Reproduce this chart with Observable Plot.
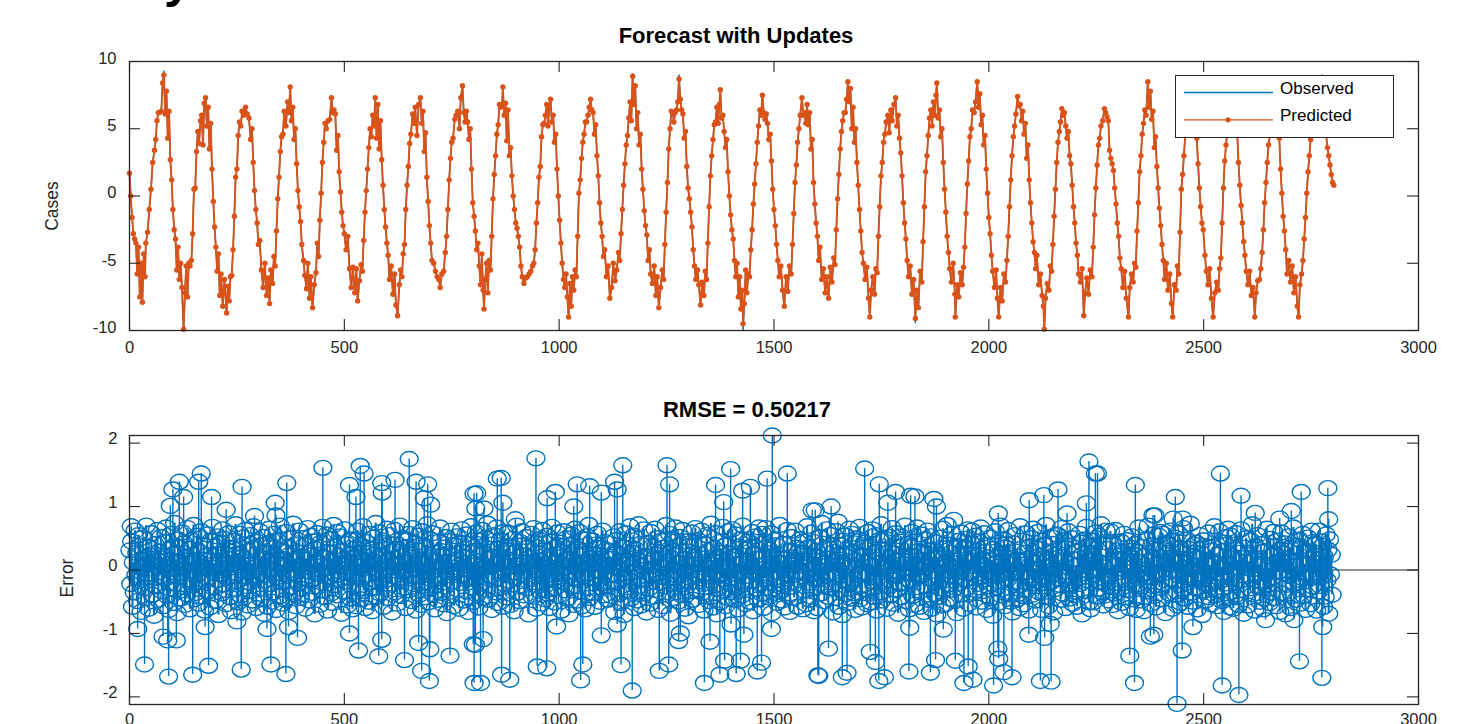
<!DOCTYPE html>
<html><head><meta charset="utf-8">
<script src="https://cdn.jsdelivr.net/npm/d3@7"></script>
<script src="https://cdn.jsdelivr.net/npm/@observablehq/plot@0.6"></script>
<style>
html,body{margin:0;padding:0;background:#fff;}
#page{position:relative;width:1474px;height:724px;overflow:hidden;background:#fff;font-family:"Liberation Sans",Arial,Helvetica,sans-serif;}
#topChart{position:absolute;left:0;top:0;}
#bottomChart{position:absolute;left:0;top:380px;}
#legend{position:absolute;left:1175px;top:75px;width:219px;height:63px;box-sizing:border-box;border:1.3px solid #262626;background:#fff;z-index:5;}
#heading{position:absolute;left:0;top:0;z-index:6;}
</style></head>
<body><div id="page">
<svg id="heading" width="420" height="20"><text x="100" y="-3" font-family="Liberation Sans, Arial, sans-serif" font-weight="bold" font-size="50" fill="#000">Day of Week</text></svg>
<div id="topChart"></div>
<div id="bottomChart"></div>
<div id="legend"><svg width="217" height="61" style="position:absolute;left:0;top:0">
<line x1="8" x2="97" y1="16.5" y2="16.5" stroke="#0072BD" stroke-width="1.3"/>
<line x1="8" x2="97" y1="43.8" y2="43.8" stroke="#D95319" stroke-width="1.3"/>
<circle cx="52" cy="43.8" r="2.6" fill="#D95319"/>
<text x="104" y="17.5" font-family="Liberation Sans, Arial, sans-serif" font-size="17" fill="#000">Observed</text>
<text x="104" y="45" font-family="Liberation Sans, Arial, sans-serif" font-size="17" fill="#000">Predicted</text>
</svg></div>
</div>
<script>
// ---------- data ----------
const xTicks = [0, 500, 1000, 1500, 2000, 2500, 3000];
const casesTicks = [-10, -5, 0, 5, 10];
const errorTicks = [-2, -1, 0, 1, 2];

// Predicted series [time, cases]
const predicted = [
[0,1.7],[3,0],[6,-1.6],[9,-2.8],[12,-3.2],[15,-3.5],[18,-5.8],[21,-3.8],[24,-7.5],[27,-5],[30,-7.9],[33,-4.3],[36,-6],[38,-3.5],[42,-2.7],[46,-1],[50,0.5],[54,2.5],[58,3.4],[61,4.2],[64,5.6],[67,6.2],[70,6.2],[74,6.3],[77,8.4],[80,9.0],[83,6.1],[86,7.8],[89,4.3],[92,6.3],[95,2.7],
[98,1.2],[101,-1],[104,-2.5],[107,-3.2],[110,-5.5],[113,-3.8],[116,-6.2],[119,-5],[122,-6.8],[126,-9.9],[129,-7.2],[132,-5.2],[135,-7.5],[138,-5.0],[141,-5.2],[144,-4.8],
[147,-2.8],[150,0.5],[153,0.6],[156,3.3],[159,4.8],[162,3.9],[165,5.6],[168,6.0],[171,3.8],[174,6.9],[177,7.3],[180,5.2],[183,6.6],[186,3.5],[189,5.4],[192,2.0],
[195,-0.4],[198,-2.3],[201,-3.8],[204,-5.6],[207,-4.3],[210,-7.4],[213,-5.8],[217,-8.2],[221,-6.2],[226,-8.7],[229,-6.7],[232,-7.8],[235,-6.0],[238,-5.9],
[241,-4.0],[244,-1.5],[247,1.4],[250,2.0],[253,4.5],[256,5.5],[259,5.2],[262,6.3],[266,6.0],[270,6.6],[274,6.1],[278,5.8],[282,4.2],[285,5.0],[288,2.5],
[291,0.4],[294,-1.0],[297,-2.0],[300,-3.6],[303,-3.3],[307,-5.5],[311,-6.8],[315,-5.0],[319,-7.4],[323,-6.1],[326,-8.0],[329,-5.5],[333,-6.5],[336,-4.5],[339,-5.2],
[342,-2.6],[345,-0.2],[348,1.4],[351,3.3],[354,4.4],[357,4.6],[360,6.3],[364,5.2],[368,7.0],[371,6.2],[374,8.1],[377,5.6],[380,6.6],[383,4.2],[386,5.0],[389,2.4],
[392,0.4],[395,-0.8],[398,-1.9],[401,-3.6],[405,-4.8],[408,-5.9],[412,-6.9],[415,-5.0],[419,-7.6],[422,-6.0],[426,-8.3],[430,-6.6],[434,-5.7],[437,-3.5],[440,-4.5],
[443,-1.8],[446,0.2],[449,2.5],[452,4.0],[455,5.4],[458,5.0],[462,5.6],[466,5.7],[470,7.3],[473,6.2],[476,6.4],[479,6.1],[482,3.4],[485,4.5],[488,1.8],
[491,0.3],[494,-1.2],[497,-2.2],[500,-2.8],[504,-4.0],[508,-3.0],[512,-5.4],[516,-6.8],[520,-5.3],[524,-7.2],[528,-5.4],[531,-7.8],[535,-6.3],[539,-5.1],[542,-5.6],
[545,-3.3],[548,-1.2],[551,0.4],[554,2.0],[557,3.6],[560,5.0],[563,4.4],[566,6.0],[569,5.2],[572,7.3],[575,4.3],[578,6.8],[581,3.5],[584,5.6],[587,2.7],
[590,0.8],[593,-1.0],[596,-2.3],[599,-3.5],[602,-4.4],[605,-6.2],[609,-5.2],[613,-7.3],[617,-5.8],[620,-8.1],[624,-8.9],[628,-6.6],[631,-5.5],[634,-6.0],[637,-4.3],
[640,-3.6],[643,-1.0],[646,0.8],[649,2.2],[652,3.9],[655,4.6],[659,6.1],[662,5.4],[665,6.6],[669,4.5],[673,6.8],[677,7.3],[680,5.4],[683,6.3],[686,3.3],[689,4.7],
[692,1.4],[695,-0.4],[698,-2.2],[701,-3.5],[704,-4.8],[708,-5.0],[712,-5.6],[716,-6.0],[720,-6.2],[723,-6.8],[727,-5.8],[731,-5.6],[735,-4.2],[738,-3.0],
[741,-1.0],[744,1.2],[747,2.8],[750,4.0],[753,4.3],[757,5.7],[760,6.0],[764,6.3],[768,5.0],[771,7.3],[775,8.2],[778,6.2],[781,5.5],[784,6.3],[787,5.5],[790,4.2],[793,5.0],
[796,2.0],[799,-0.5],[802,-1.5],[805,-2.6],[808,-4.0],[811,-3.5],[814,-5.2],[817,-6.6],[820,-4.3],[823,-7.0],[825,-8.4],[828,-6.2],[831,-5.0],[834,-7.2],[837,-4.8],[840,-5.5],
[843,-3.0],[846,-0.2],[849,1.6],[852,3.0],[855,4.6],[858,5.3],[861,6.8],[864,6.6],[867,6.8],[869,8.1],[872,6.0],[875,6.9],[878,4.1],[881,6.4],[884,3.0],[887,3.6],
[890,1.5],[893,0.0],[896,-1.0],[899,-2.0],[902,-2.4],[905,-3.0],[908,-3.8],[911,-5.2],[914,-6.0],[918,-6.5],[922,-6.1],[926,-6.0],[930,-5.8],[934,-5.6],[938,-5.2],[941,-5.0],
[944,-4.0],[947,-2.0],[950,-0.5],[953,1.4],[956,2.2],[959,4.4],[962,5.3],[965,5.4],[968,6.0],[971,6.8],[974,5.2],[977,6.5],[980,7.2],[983,5.5],[986,6.0],[989,4.0],[992,4.6],
[995,2.0],[998,0.0],[1001,-1.8],[1004,-3.5],[1007,-5.0],[1010,-6.2],[1013,-6.8],[1016,-5.8],[1019,-7.5],[1022,-9.0],[1025,-6.5],[1028,-8.2],[1031,-6.0],[1034,-7.0],[1037,-5.5],[1040,-6.0],
[1043,-3.0],[1046,0.2],[1049,1.2],[1052,2.8],[1055,4.0],[1058,4.6],[1061,5.5],[1064,5.5],[1067,6.0],[1070,6.6],[1073,7.2],[1076,6.4],[1079,6.2],[1082,4.6],[1085,5.3],[1088,3.0],
[1091,1.5],[1094,-0.5],[1097,-2.0],[1100,-3.0],[1103,-4.5],[1106,-4.0],[1110,-6.0],[1114,-5.2],[1118,-7.6],[1122,-6.8],[1126,-5.0],[1130,-6.3],[1134,-5.5],[1138,-4.2],[1141,-4.8],
[1144,-2.8],[1147,-1.0],[1150,0.8],[1153,2.4],[1156,3.8],[1159,4.5],[1162,5.8],[1165,7.0],[1168,5.6],[1171,8.9],[1174,6.8],[1177,8.2],[1180,5.0],[1183,6.2],[1186,3.8],[1189,4.6],
[1192,2.0],[1195,0.5],[1198,-1.1],[1201,-2.2],[1204,-2.9],[1207,-4.8],[1210,-4.0],[1213,-5.8],[1217,-6.5],[1221,-5.2],[1225,-7.4],[1228,-6.0],[1232,-8.3],[1236,-6.8],[1240,-5.5],[1243,-6.2],
[1246,-3.6],[1249,-1.2],[1252,1.0],[1255,3.5],[1258,5.0],[1261,6.3],[1264,6.2],[1267,5.5],[1270,6.2],[1273,6.4],[1276,7.0],[1279,8.7],[1282,7.2],[1285,6.4],[1288,6.1],[1291,4.3],[1294,4.8],
[1297,2.2],[1300,0.6],[1303,-0.2],[1306,-1.2],[1309,-2.3],[1312,-4.0],[1315,-5.2],[1318,-6.2],[1322,-5.5],[1325,-6.6],[1329,-8.1],[1333,-6.4],[1337,-7.4],[1340,-5.6],[1343,-6.2],
[1346,-3.5],[1349,-0.8],[1352,1.5],[1355,3.0],[1358,4.2],[1361,5.3],[1364,5.5],[1367,6.6],[1370,5.4],[1373,6.8],[1375,7.9],[1378,5.8],[1381,6.0],[1384,4.8],[1387,3.6],[1390,4.2],
[1393,1.8],[1396,0.0],[1399,-1.4],[1402,-2.5],[1405,-3.2],[1408,-4.8],[1411,-6.0],[1414,-5.0],[1417,-7.5],[1420,-6.0],[1423,-8.4],[1426,-7.0],[1428,-9.5],[1431,-8.0],[1434,-5.5],[1437,-7.2],[1440,-5.8],[1443,-6.0],
[1446,-4.0],[1449,-2.5],[1452,-0.6],[1455,0.9],[1458,2.4],[1461,4.0],[1464,5.2],[1467,6.4],[1470,6.0],[1473,7.5],[1476,6.2],[1479,5.7],[1482,6.1],[1485,5.4],[1488,4.2],[1491,4.6],[1494,2.6],
[1497,0.5],[1500,-1.0],[1503,-2.2],[1506,-3.6],[1509,-4.8],[1512,-6.0],[1516,-5.2],[1520,-7.0],[1524,-8.2],[1528,-6.0],[1532,-7.1],[1536,-5.2],[1540,-5.8],
[1543,-3.6],[1546,-1.3],[1549,1.0],[1552,2.3],[1555,4.0],[1558,5.0],[1561,6.0],[1565,7.3],[1568,6.0],[1571,6.2],[1574,5.4],[1577,6.8],[1580,5.3],[1583,6.2],[1586,3.5],[1589,4.2],
[1592,1.0],[1595,-0.6],[1598,-2.0],[1601,-3.0],[1604,-4.8],[1607,-3.8],[1611,-6.2],[1615,-5.4],[1619,-7.2],[1623,-6.0],[1627,-7.6],[1631,-5.3],[1635,-6.4],[1639,-4.6],[1642,-5.1],
[1645,-2.5],[1648,-0.2],[1651,1.6],[1654,3.5],[1657,4.8],[1660,5.6],[1663,6.2],[1666,6.2],[1669,7.2],[1672,8.5],[1675,7.0],[1678,8.0],[1681,5.0],[1684,6.6],[1687,4.0],[1690,5.0],
[1693,2.5],[1696,0.8],[1699,-1.0],[1702,-2.6],[1705,-4.2],[1708,-5.0],[1712,-6.2],[1716,-5.3],[1720,-7.6],[1723,-9.0],[1726,-7.0],[1730,-6.0],[1734,-7.3],[1737,-5.4],[1740,-5.7],
[1743,-3.0],[1746,-0.8],[1749,1.5],[1752,2.5],[1755,4.0],[1758,4.6],[1761,5.5],[1765,6.0],[1768,4.7],[1772,6.4],[1775,5.6],[1779,6.8],[1783,7.3],[1786,5.2],[1789,6.0],[1792,4.3],[1795,3.2],
[1798,1.5],[1801,-0.5],[1804,-2.0],[1807,-3.2],[1810,-4.8],[1813,-6.0],[1817,-5.2],[1821,-7.3],[1825,-6.2],[1829,-9.1],[1832,-7.0],[1836,-8.3],[1840,-5.6],[1844,-6.4],
[1847,-3.4],[1850,-0.8],[1853,1.8],[1856,3.0],[1859,4.5],[1862,5.8],[1865,6.4],[1868,5.2],[1871,7.0],[1874,6.0],[1877,7.5],[1879,8.4],[1882,5.8],[1885,6.4],[1888,4.4],[1891,5.0],
[1894,2.5],[1897,0.5],[1900,-1.2],[1903,-3.0],[1906,-4.2],[1909,-5.4],[1913,-6.4],[1917,-5.0],[1921,-7.3],[1922,-9.0],[1926,-6.6],[1930,-7.5],[1934,-5.7],[1938,-6.6],[1941,-5.3],
[1944,-3.8],[1947,-1.3],[1950,0.9],[1953,2.6],[1956,4.4],[1959,5.0],[1962,6.4],[1966,6.2],[1969,7.0],[1973,8.5],[1976,6.6],[1979,7.6],[1982,5.3],[1985,6.0],[1988,3.8],[1991,4.5],
[1994,2.0],[1997,0.2],[2000,-1.6],[2003,-2.8],[2006,-4.4],[2009,-5.6],[2013,-6.8],[2017,-5.5],[2020,-7.6],[2023,-9.0],[2027,-6.8],[2031,-7.8],[2035,-5.8],[2039,-6.4],[2042,-4.8],
[2045,-3.0],[2048,-0.8],[2051,1.2],[2054,3.0],[2057,4.4],[2060,5.2],[2063,6.1],[2067,7.4],[2070,6.7],[2073,6.8],[2076,5.6],[2079,6.3],[2082,4.6],[2085,5.4],[2088,2.8],[2091,3.8],
[2094,1.2],[2097,-0.5],[2100,-2.0],[2103,-3.4],[2106,-4.2],[2109,-5.4],[2112,-4.4],[2116,-6.6],[2120,-5.8],[2124,-7.4],[2127,-8.2],[2129,-9.9],[2132,-7.6],[2136,-6.5],[2140,-7.0],[2143,-5.2],[2146,-5.6],
[2149,-3.6],[2152,-1.5],[2155,0.5],[2158,2.5],[2161,4.0],[2164,4.8],[2167,5.5],[2170,6.5],[2173,6.0],[2176,6.2],[2179,5.2],[2182,4.3],[2185,4.8],[2188,3.0],[2191,2.4],
[2194,0.8],[2197,-0.8],[2200,-2.0],[2203,-3.5],[2206,-4.4],[2209,-5.8],[2213,-6.4],[2217,-5.4],[2221,-8.9],[2224,-7.2],[2228,-6.1],[2232,-7.3],[2236,-5.5],[2240,-6.0],
[2243,-3.8],[2246,-1.4],[2249,0.6],[2252,2.3],[2255,3.8],[2258,4.3],[2261,5.2],[2265,5.6],[2269,6.5],[2272,6.2],[2275,5.9],[2278,5.6],[2281,3.4],[2284,2.8],[2287,2.4],[2290,1.9],
[2293,0.6],[2296,-0.6],[2299,-2.0],[2302,-3.0],[2305,-4.6],[2308,-5.4],[2312,-6.8],[2316,-5.6],[2320,-7.6],[2325,-9.0],[2328,-6.8],[2332,-5.8],[2336,-6.4],[2339,-5.0],[2342,-5.3],
[2345,-2.6],[2348,-0.5],[2351,1.8],[2354,3.0],[2357,4.6],[2360,5.4],[2363,6.4],[2366,6.0],[2370,8.5],[2373,6.6],[2376,7.8],[2379,5.7],[2382,6.3],[2385,3.6],[2388,4.4],[2391,2.2],
[2394,0.6],[2397,-0.9],[2400,-2.2],[2403,-3.6],[2406,-4.8],[2409,-6.2],[2413,-5.0],[2417,-7.0],[2421,-5.8],[2425,-8.0],[2428,-9.0],[2432,-6.6],[2436,-7.0],[2439,-5.2],[2442,-5.8],
[2445,-2.7],[2448,0.5],[2451,1.6],[2454,3.0],[2457,4.5],[2460,5.4],[2463,6.2],[2467,6.8],[2470,7.2],[2474,6.0],[2478,6.6],[2481,5.2],[2484,4.3],[2487,2.4],
[2490,0.6],[2493,-0.8],[2496,-2.0],[2499,-2.5],[2503,-4.4],[2506,-5.6],[2510,-6.6],[2514,-5.4],[2518,-7.6],[2522,-9.0],[2526,-7.2],[2530,-6.4],[2534,-7.0],[2537,-5.4],[2540,-4.6],
[2543,-2.0],[2546,0.6],[2549,2.6],[2552,3.8],[2555,4.8],[2558,5.5],[2562,6.5],[2566,7.0],[2570,6.4],[2574,5.8],[2578,4.8],
[2581,2.5],[2584,0.8],[2587,-0.7],[2590,-2.0],[2593,-3.4],[2596,-4.4],[2599,-5.6],[2603,-6.6],[2607,-5.6],[2611,-7.4],[2615,-6.8],[2619,-9.0],[2622,-7.2],[2626,-6.3],[2630,-6.2],[2633,-5.4],[2636,-4.2],
[2639,-2.5],[2642,-0.5],[2645,1.0],[2648,2.5],[2651,3.8],[2654,4.5],[2657,5.5],[2661,6.6],[2665,7.0],[2669,6.2],[2673,5.6],[2676,4.3],
[2679,2.0],[2682,0.2],[2685,-1.5],[2688,-2.6],[2691,-4.0],[2694,-5.8],[2698,-4.8],[2702,-6.4],[2706,-5.2],[2710,-7.2],[2714,-6.0],[2718,-8.2],[2721,-9.0],[2724,-6.6],[2728,-5.8],[2731,-4.8],
[2734,-3.2],[2737,-1.6],[2740,0.2],[2743,1.8],[2746,3.0],[2749,4.2],[2752,5.4],[2756,6.2],[2760,7.0],[2764,6.3],[2768,5.8],[2772,6.6],[2776,5.2],[2779,6.0],
[2782,5.4],[2785,4.6],[2788,3.6],[2791,3.0],[2794,2.3],[2797,1.6],[2800,1.0],[2803,0.8]
];

// Points where the observed (blue) series visibly differs from the predicted one
const observedOverrides = [[80,9.3],[126,-10],[1171,9.1],[1279,9.0],[1428,-10],[1829,-9.4],[2129,-10],[2776,9.0]];

// Forecast error: dense core, one value (in hundredths) every 2 time steps (estimated)
const errCoreStep = 2;
const errCoreHundredths = [
31,-22,45,-58,12,-35,62,-8,27,-49,55,-17,38,-66,4,51,-29,19,-44,70,
-12,36,-61,23,-5,58,-39,14,-72,41,7,-26,63,-47,29,-9,52,-33,18,-57,
44,-14,67,-41,9,-63,32,-21,57,-3,25,-52,74,-31,13,-68,48,-11,35,-45,
6,59,-27,42,-55,21,-38,66,-15,33,-62,11,47,-24,71,-46,16,-36,54,-7,
-53,28,-19,61,-42,3,39,-64,22,-13,56,-34,15,-59,46,-2,68,-28,9,-49,
37,-16,53,-71,24,-6,43,-37,64,-23,2,49,-54,31,-12,58,-43,17,-65,34,
-4,46,-31,72,-18,26,-51,8,57,-40,20,-67,40,-10,63,-25,12,-56,30,-20,
55,-33,10,-48,69,-14,36,-60,5,44,-30,61,-45,18,-8,52,-69,27,-16,41,
-58,13,65,-22,38,-50,1,57,-35,23,-63,47,-11,32,-42,70,-19,8,-53,29,
17,-47,60,-9,35,-66,24,-28,50,-4,73,-38,14,-57,42,-21,6,62,-44,21,
-30,50,-13,39,-61,16,-2,66,-48,27,-17,54,-36,9,45,-70,33,-6,58,-26,
11,-55,43,-20,68,-32,19,-43,3,56,-64,28,-10,49,-37,15,-52,71,-24,37,
-8,60,-40,22,-15,53,-69,30,7,-34,64,-18,41,-56,12,-3,47,-45,25,-62,
48,-11,34,-57,20,62,-29,5,-46,39,-14,69,-33,16,-60,44,-7,26,-50,57,
-19,32,-65,10,51,-27,74,-42,18,-5,59,-37,23,-13,46,-58,4,38,-30,65,
-44,14,55,-23,29,-67,40,-9,63,-35,8,-53,33,-16,70,-41,21,-2,50,-28,
36,-60,12,47,-32,57,-13,24,-49,66,-22,3,42,-64,31,-10,54,-39,17,-55,
61,-25,9,-43,37,-6,72,-51,19,-30,48,-15,58,-38,13,-62,27,1,-47,44,
-12,67,-36,22,-54,35,6,-26,52,-68,25,-8,45,-40,62,-18,10,-57,39,-3,
53,-31,15,-61,43,-20,64,-7,28,-48,2,56,-34,20,-66,41,-14,69,-27,11,
-50,30,-4,59,-39,14,-59,46,-21,7,63,-44,26,-12,51,-31,73,-47,18,-9,
40,-63,21,-16,55,-35,9,67,-52,34,-1,47,-27,13,-58,60,-22,32,-43,5,
58,-17,38,-55,16,-3,49,-65,29,-11,70,-36,8,-49,44,-24,61,-8,23,-40,
12,52,-29,35,-70,19,-14,57,-42,5,66,-23,42,-61,27,-5,48,-33,15,-53,
63,-20,31,-46,8,54,-37,20,-60,45,-12,68,-30,10,-51,36,-17,59,-41,24,
-6,43,-64,27,-19,61,-32,4,50,-45,17,-70,39,-8,56,-26,14,-55,65,-15,
33,-48,7,60,-34,22,-57,48,-10,30,-62,14,53,-28,71,-44,19,-12,46,-36,
25,-58,40,-2,57,-31,12,-50,35,-21,62,-40,9,44,-26,18,-47,30,-8,21,
-41,18,-7,53,-66,29,47,-19,2,-38,61,-52,24,36,-13,-71,15,58,-27,40,
9,-34,69,-45,-18,27,54,-60,33,-2,-48,16,72,-25,41,-56,6,-15,64,-37,
22,-67,43,11,-29,-53,60,-8,37,-42,19,65,-31,-4,50,-63,28,-20,46,-11,
-57,35,4,-26,71,-39,14,-12,57,-69,31,-1,48,-44,23,67,-35,10,-50,39,
52,-9,-40,63,-22,17,-61,45,-16,29,-73,38,7,-33,59,-47,20,-6,66,-30,
-18,47,-55,25,-3,62,-36,12,-64,41,-27,55,-10,30,-49,8,73,-42,15,-59,
34,-24,58,-70,19,-7,44,-51,27,-14,68,-32,3,-57,40,-19,61,-45,26,-1,
-35,64,-12,21,-47,56,-28,9,-62,37,-5,49,-40,70,-23,13,-54,32,-9,45,
14,-50,36,-17,60,-65,26,-4,53,-30,18,-46,67,-21,6,-37,57,-60,42,-13,
66,-28,5,-43,32,-11,58,-68,20,-36,47,-2,39,-52,24,-15,71,-34,11,-48,
-23,41,-59,17,-8,63,-41,30,-66,8,52,-26,15,-44,62,-7,35,-58,28,-16,
48,-3,27,-62,45,-33,10,-54,69,-20,36,-47,1,59,-29,22,-65,44,-12,31,
-60,20,-15,51,-37,74,-24,6,-49,33,-9,64,-42,18,-28,55,-5,40,-67,13,
29,-44,61,-6,23,-58,39,-31,12,-71,46,-16,54,-38,7,-52,26,65,-21,-45,
57,-14,-36,42,-63,15,50,-27,-8,68,-46,24,-59,35,-3,43,-30,11,-54,60,
-26,38,-51,7,64,-19,-42,28,55,-64,16,-11,47,-35,72,-48,2,31,-17,49,
4,-61,33,-24,52,-40,19,66,-53,26,-7,58,-32,14,-69,37,-22,53,-43,10,
45,-20,70,-49,13,-3,41,-62,36,-18,60,-41,22,-55,9,-27,67,-10,30,-58,
-33,56,-8,28,-66,48,-25,4,62,-47,31,-13,53,-61,18,-1,44,-38,25,-70,
19,-42,51,-29,8,-56,65,-16,34,-54,12,71,-23,40,-45,27,-9,57,-31,3,
-49,10,-68,37,-21,46,-3,59,-38,21,-61,35,-14,49,-28,64,-53,16,-4,42,
62,-36,24,-7,54,-59,30,-22,45,-10,67,-50,6,-33,58,-15,39,-63,20,-26,
-2,51,-44,15,-72,33,-9,61,-27,11,-52,43,-18,70,-40,26,-6,48,-57,35,
40,-15,63,-38,23,-50,8,-67,42,-19,55,-3,29,-46,16,-60,69,-24,13,-41,
-54,27,-4,58,-31,18,-64,37,-12,50,-39,65,-21,2,-48,34,-17,60,-35,22,
16,-63,46,-10,39,-26,71,-43,5,-57,28,-19,52,-6,41,-67,24,-30,56,-13,
55,-23,12,-47,66,-37,20,-2,47,-60,34,-11,61,-45,9,-25,50,-53,17,-34,
-39,7,-58,30,-13,57,-22,43,-70,25,-5,48,-33,68,-16,38,-51,14,-62,46,
26,-51,39,-1,59,-42,13,-29,54,-18,72,-35,21,-56,4,-40,62,-9,33,-48,
-10,61,-27,44,-55,6,-37,63,-20,31,-65,17,-3,45,-52,29,-14,57,-43,19,
47,-32,2,-60,35,-16,53,-46,24,-8,41,-63,28,-22,67,-30,10,-48,36,-5,
-65,23,-11,49,-34,70,-18,14,-53,39,-25,56,-41,8,-59,32,-7,54,-28,60,
13,-46,57,-21,31,-68,42,-4,27,-37,62,-14,46,-61,20,-2,51,-39,11,-56,
58,-9,34,-52,17,-30,66,-45,9,-20,48,-58,33,-12,73,-36,22,-50,40,-17,
-28,43,-62,19,-6,55,-33,26,-71,47,-15,38,-48,12,-24,59,-43,7,-54,31,
36,-18,69,-40,11,-57,24,-12,61,-32,4,-49,30,-66,43,-9,52,-26,65,-44,
-7,54,-35,22,-61,40,-1,58,-43,15,-55,27,-17,64,-31,19,-69,35,-10,50,
24,-56,11,-29,47,-13,72,-38,16,-64,37,-6,55,-27,8,-50,41,-19,28,-62,
-45,30,-18,65,-24,3,-52,49,-36,22,-11,60,-44,25,-57,46,-3,31,-66,14,
59,-37,26,-5,42,-70,18,-23,53,-9,35,-60,13,-41,67,-22,6,-47,38,-15,
-20,48,-53,34,-12,57,-40,9,-63,30,-4,51,-30,17,-54,62,-26,44,-8,27,
41,-64,16,-34,62,-25,45,-11,38,-58,21,-42,56,-16,32,-69,48,-7,24,-39
];

// Forecast error: large individual errors [time, error]
const errOutliers = [
[4,0.69],[95,1.01],[101,1.27],[116,1.39],[126,1.15],[161,1.39],[167,1.52],[191,1.15],[225,0.95],[262,1.31],[291,0.85],[339,1.06],[341,0.86],[366,1.37],[450,1.61],[512,1.34],[527,1.15],[537,1.64],[546,1.52],[587,1.37],[588,1.22],[618,1.42],[651,1.75],[667,1.39],[686,1.13],[694,1.35],[701,1.03],[802,1.2],[806,0.97],
[19,-0.93],[35,-1.49],[78,-1.05],[89,-1.11],[91,-1.68],[109,-1.11],[147,-1.65],[176,-0.9],[184,-1.51],[250,-0.81],[260,-1.57],[320,-0.93],[329,-1.49],[364,-1.64],[370,-0.9],[391,-1.07],[512,-1.0],[533,-1.27],[580,-1.36],[587,-1.1],[640,-1.42],[673,-1.15],[680,-1.59],[698,-1.75],[699,-1.25],[746,-1.35],[800,-1.17],[802,-1.78],
[808,1.21],[825,0.97],[856,1.44],[865,1.45],[869,1.06],[898,0.8],[946,1.76],[972,1.13],[991,1.23],[1034,1.0],[1042,1.35],[1071,1.32],[1098,1.22],[1129,1.39],[1135,1.27],[1148,1.65],[1251,1.65],[1257,1.35],[1364,1.34],[1383,1.07],[1399,1.59],[1427,1.25],[1445,1.31],[1484,1.44],[1496,2.12],[1531,1.52],[1589,0.94],
[805,-1.18],[817,-1.78],[823,-1.09],[866,-1.65],[885,-1.73],[949,-1.52],[971,-1.55],[994,-0.89],[1050,-1.74],[1055,-1.49],[1098,-1.03],[1135,-0.86],[1144,-1.5],[1170,-1.9],[1233,-1.59],[1255,-1.49],[1278,-1.12],[1282,-1.0],[1338,-1.78],[1351,-1.13],[1374,-1.65],[1385,-1.43],[1400,-0.86],[1412,-1.64],[1422,-1.43],[1430,-1.02],[1461,-1.6],[1471,-1.46],[1494,-0.93],[1604,-1.67],
[1596,0.94],[1633,1.0],[1649,0.76],[1711,1.6],[1745,1.35],[1765,1.06],[1783,1.23],[1818,1.17],[1828,1.16],[1872,1.12],[1878,1.0],[1918,0.79],[2022,0.89],[2094,1.1],[2128,1.18],[2161,1.27],[2182,0.89],[2227,1.05],[2233,1.71],[2248,1.52],[2253,1.52],[2341,1.34],[2382,0.86],
[1602,-1.66],[1627,-1.24],[1659,-1.69],[1670,-1.62],[1724,-1.29],[1736,-1.45],[1744,-1.75],[1757,-1.69],[1814,-1.6],[1816,-0.91],[1864,-1.62],[1876,-1.42],[1894,-0.94],[1922,-1.43],[1942,-1.78],[1952,-1.52],[1963,-1.73],[2011,-1.82],[2021,-1.24],[2023,-1.4],[2035,-1.61],[2054,-1.69],[2093,-1.02],[2120,-1.75],[2130,-1.07],[2143,-0.85],[2145,-1.76],[2328,-1.35],[2339,-1.78],[2384,-1.02],
[2386,0.86],[2429,0.81],[2434,1.15],[2451,0.81],[2539,1.52],[2587,1.17],[2620,0.9],[2677,0.81],[2704,0.93],[2727,1.23],[2789,1.29],[2791,0.8],
[2376,-1.05],[2438,-2.11],[2450,-1.27],[2475,-0.9],[2543,-1.82],[2561,-0.59],[2582,-1.97],[2644,-0.79],[2710,-0.79],[2723,-1.44],[2775,-1.7],[2777,-0.9]
];

// ---------- build ----------
const blue = "#0072BD", orange = "#D95319", axisColor = "#262626";
const font = "Liberation Sans, Arial, Helvetica, sans-serif";
const W = 1474, ML = 129, MR = 56;

const predTable = predicted.map(([x, y]) => ({x, y}));
const overrideMap = new Map(observedOverrides);
const obsTable = predicted.map(([x, y]) => ({x, y: overrideMap.has(x) ? overrideMap.get(x) : y}));
const coreTable = errCoreHundredths.map((v, i) => ({x: 1 + i * errCoreStep, e: v / 100}));
const outlierTable = errOutliers.map(([x, e]) => ({x, e}));
const errTable = coreTable.concat(outlierTable);

function frameMarks(H, mt, mb, xt, yt) {
  const fw = W - ML - MR, fh = H - mt - mb, t = 11;
  return [
    Plot.ruleX(xt, {stroke: axisColor, strokeWidth: 1.1, insetTop: fh - t}),
    Plot.ruleX(xt, {stroke: axisColor, strokeWidth: 1.1, insetBottom: fh - t}),
    Plot.ruleY(yt, {stroke: axisColor, strokeWidth: 1.1, insetRight: fw - t}),
    Plot.ruleY(yt, {stroke: axisColor, strokeWidth: 1.1, insetLeft: fw - t}),
    Plot.frame({stroke: axisColor, strokeWidth: 1.3})
  ];
}
const fmt = d => String(d);

// Top chart
const H1 = 370, MT1 = 61, MB1 = 40;
const topPlot = Plot.plot({
  width: W, height: H1, marginLeft: ML, marginRight: MR, marginTop: MT1, marginBottom: MB1,
  style: {fontFamily: font, color: axisColor, background: "transparent", overflow: "visible"},
  x: {domain: [0, 3000]},
  y: {domain: [-10, 10]},
  marks: [
    Plot.axisX(xTicks, {tickSize: 0, tickPadding: 11, fontSize: 16.5, tickFormat: fmt, label: null, fill: axisColor}),
    Plot.axisY(casesTicks, {tickSize: 0, tickPadding: 13, fontSize: 16.5, tickFormat: fmt, label: null, dy: -3, fill: axisColor}),
    Plot.line(obsTable, {x: "x", y: "y", stroke: blue, strokeWidth: 1.4}),
    Plot.line(predTable, {x: "x", y: "y", stroke: orange, strokeWidth: 1.9}),
    Plot.dot(predTable, {x: "x", y: "y", r: 2.7, fill: orange, stroke: "none"}),
    ...frameMarks(H1, MT1, MB1, xTicks, casesTicks),
    Plot.text(["Forecast with Updates"], {frameAnchor: "top", textAnchor: "middle", lineAnchor: "middle", dx: -38, dy: -26, fontWeight: "bold", fontSize: 22, fill: "#000"}),
    Plot.text(["Cases"], {frameAnchor: "left", textAnchor: "middle", lineAnchor: "middle", dx: -77, dy: 10, rotate: -90, fontSize: 17.5, fill: axisColor})
  ]
});
document.getElementById("topChart").appendChild(topPlot);

// Bottom chart
const ellipse = {
  draw(ctx) {
    const rx = 9, ry = 7.5, k = 0.5523;
    ctx.moveTo(rx, 0);
    ctx.bezierCurveTo(rx, ry * k, rx * k, ry, 0, ry);
    ctx.bezierCurveTo(-rx * k, ry, -rx, ry * k, -rx, 0);
    ctx.bezierCurveTo(-rx, -ry * k, -rx * k, -ry, 0, -ry);
    ctx.bezierCurveTo(rx * k, -ry, rx, -ry * k, rx, 0);
    ctx.closePath();
  }
};
const H2 = 380, MT2 = 55, MB2 = 56;
const bottomPlot = Plot.plot({
  width: W, height: H2, marginLeft: ML, marginRight: MR, marginTop: MT2, marginBottom: MB2,
  style: {fontFamily: font, color: axisColor, background: "transparent", overflow: "visible"},
  x: {domain: [0, 3000]},
  y: {domain: [-2.12, 2.12]},
  marks: [
    Plot.axisX(xTicks, {tickSize: 0, tickPadding: 9, fontSize: 16.5, tickFormat: fmt, label: null, fill: axisColor}),
    Plot.axisY(errorTicks, {tickSize: 0, tickPadding: 12, fontSize: 16.5, tickFormat: fmt, label: null, dy: -4, fill: axisColor}),
    Plot.ruleY([0], {stroke: axisColor, strokeWidth: 1.2}),
    Plot.ruleX(coreTable, {x: "x", y1: 0, y2: "e", stroke: blue, strokeWidth: 2.1}),
    Plot.ruleX(outlierTable, {x: "x", y1: 0, y2: "e", stroke: blue, strokeWidth: 1.4}),
    Plot.dot(errTable, {x: "x", y: "e", symbol: ellipse, r: 8, stroke: blue, fill: "none", strokeWidth: 1.4}),
    ...frameMarks(H2, MT2, MB2, xTicks, errorTicks),
    Plot.text(["RMSE = 0.50217"], {frameAnchor: "top", textAnchor: "middle", lineAnchor: "middle", dx: -27, dy: -26, fontWeight: "bold", fontSize: 22, fill: "#000"}),
    Plot.text(["Error"], {frameAnchor: "left", textAnchor: "middle", lineAnchor: "middle", dx: -62, dy: 8, rotate: -90, fontSize: 17.5, fill: axisColor})
  ]
});
document.getElementById("bottomChart").appendChild(bottomPlot);
</script>
</body></html>
